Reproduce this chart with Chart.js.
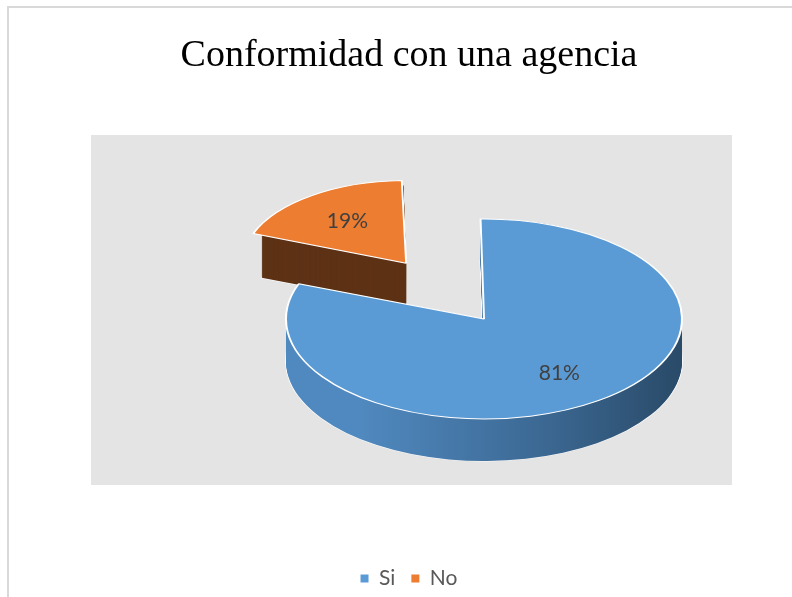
<!DOCTYPE html>
<html>
<head>
<meta charset="utf-8">
<script src="https://cdn.jsdelivr.net/npm/chart.js@4"></script>
<style>
  html, body { margin: 0; padding: 0; background: #fff; overflow: hidden; }
  #frame {
    position: absolute; left: 7px; top: 6px;
    width: 800px; height: 600px;
    border-left: 2px solid #d9d9d9; border-top: 2px solid #d9d9d9;
    background: #fff;
  }
</style>
</head>
<body>
<div id="frame"><canvas id="agency-chart"></canvas></div>
<script>
/* 3d-looking pie: conformidad con una agencia */

const categories = ["Si", "No"];
const shares = [81, 19];

const topColors = ['#5b9bd5', '#ed7d31'];
const sideColors = [null, '#5e3215'];   // null -> blue gradient

const tilt = 0.505;        // vertical squash of the pie disc
const depth = 42;          // thickness in px
const farScale = 0.78;     // exploded slice sits further back
const center = { x: 475, y: 311 };

function blueSide(ctx) {
    let g = ctx.createLinearGradient(277, 0, 673, 0);
    g.addColorStop(0, '#5089bf');
    g.addColorStop(0.45, '#3c6994');
    g.addColorStop(1, '#203a51');
    return g;
}

function slicePath(ctx, arc, dy) {
    let mid = (arc.startAngle + arc.endAngle) / 2;
    let off = (arc.options.offset || 0) / 4;
    let cx = arc.x + Math.cos(mid) * off;
    let cy = arc.y + Math.sin(mid) * off + dy;
    ctx.beginPath();
    ctx.moveTo(cx, cy);
    ctx.arc(cx, cy, arc.outerRadius, arc.startAngle, arc.endAngle);
    ctx.closePath();
}

const plotBackground = {
    id: 'plotBackground',
    beforeDraw(chart) {
        let ctx = chart.ctx;
        ctx.save();
        ctx.fillStyle = '#e4e4e4';
        ctx.fillRect(82, 127, 641, 350);
        ctx.restore();
    }
};

const pie3d = {
    id: 'pie3d',
    afterDatasetUpdate(chart) {
        let arcs = chart.getDatasetMeta(0).data;
        arcs.forEach(a => {
            if (a.options && a.options.offset) a.outerRadius = a.outerRadius * farScale;
        });
    },
    beforeDatasetsDraw(chart) {
        let ctx = chart.ctx;
        let arcs = chart.getDatasetMeta(0).data;
        let ox = arcs[0].x, oy = arcs[0].y;

        // back to front
        let order = arcs.map((a, i) => i).sort((i, j) => {
            let mi = (arcs[i].startAngle + arcs[i].endAngle) / 2;
            let mj = (arcs[j].startAngle + arcs[j].endAngle) / 2;
            let yi = Math.sin(mi) * (arcs[i].options.offset || 0);
            let yj = Math.sin(mj) * (arcs[j].options.offset || 0);
            return yi - yj;
        });

        ctx.save();
        ctx.translate(center.x, center.y);
        ctx.scale(1, tilt);
        ctx.translate(-ox, -oy);

        order.forEach(i => {
            let arc = arcs[i];
            let side = sideColors[i] || blueSide(ctx);
            // bottom rim outline
            slicePath(ctx, arc, depth / tilt);
            ctx.lineWidth = 2;
            ctx.strokeStyle = 'rgba(255,255,255,0.85)';
            ctx.stroke();
            ctx.fillStyle = side;
            for (let k = depth; k >= 0; k--) {
                slicePath(ctx, arc, k / tilt);
                ctx.fill();
            }
            arc.draw(ctx);
        });
        ctx.restore();

        // percentage labels
        let total = shares.reduce((s, v) => s + v, 0);
        ctx.save();
        ctx.font = '21px Lato';
        ctx.fillStyle = '#404040';
        ctx.textAlign = 'center';
        ctx.textBaseline = 'middle';
        arcs.forEach((arc, i) => {
            let mid = (arc.startAngle + arc.endAngle) / 2;
            let off = (arc.options.offset || 0) / 4;
            let r = off + arc.outerRadius * 0.66;
            let txt = Math.round(shares[i] / total * 100) + '%';
            ctx.fillText(txt, center.x + Math.cos(mid) * r, center.y + Math.sin(mid) * r * tilt);
        });
        ctx.restore();
        return false;
    }
};

let agencyCanvas = document.getElementById("agency-chart");

let agencyData = {
    labels: categories,
    datasets: [{
        data: shares,
        backgroundColor: topColors,
        borderColor: '#ffffff',
        borderWidth: 2,
        offset: [0, 540]
    }]
};

let agencyOptions = {
    responsive: true,
    maintainAspectRatio: false,
    animation: false,
    rotation: -1,
    radius: 198,
    cutout: '0%',
    layout: {
        padding: { top: 0, bottom: 9 }
    },
    plugins: {
        title: {
            display: true,
            text: 'Conformidad con una agencia',
            color: '#000000',
            font: { family: 'Liberation Serif', size: 38, weight: 'normal' },
            padding: { top: 25, bottom: 10 }
        },
        legend: {
            position: 'bottom',
            labels: {
                boxWidth: 8,
                boxHeight: 8,
                padding: 16,
                color: '#595959',
                font: { family: 'Lato', size: 21 },
                generateLabels(chart) {
                    let items = Chart.overrides.pie.plugins.legend.labels.generateLabels(chart);
                    items.forEach(it => { it.lineWidth = 0; });
                    return items;
                }
            }
        },
        tooltip: { enabled: false }
    }
};

let agencyChart = new Chart(agencyCanvas, {
    type: 'pie',
    data: agencyData,
    options: agencyOptions,
    plugins: [plotBackground, pie3d]
});
</script>
</body>
</html>
